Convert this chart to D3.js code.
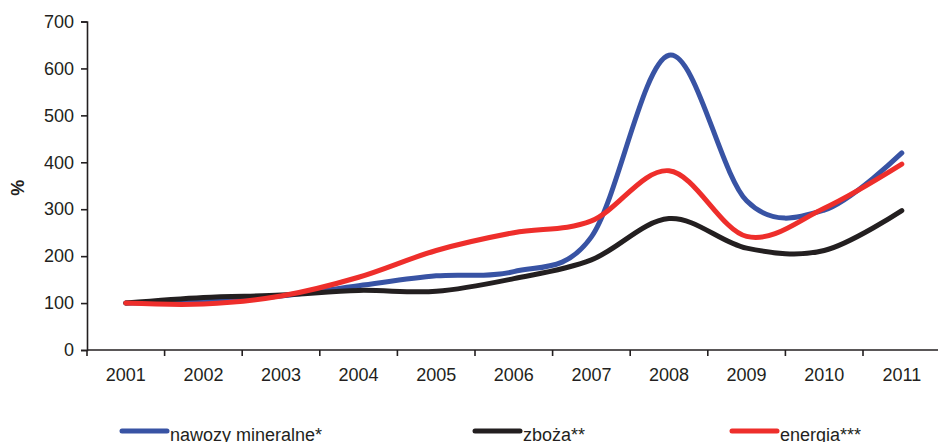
<!DOCTYPE html>
<html>
<head>
<meta charset="utf-8">
<script src="https://cdn.jsdelivr.net/npm/d3@7/dist/d3.min.js"></script>
<style>
  html, body { margin: 0; padding: 0; background: #fff; }
  svg { display: block; font-family: "Liberation Sans", Arial, sans-serif; }
</style>
</head>
<body>
<svg id="chart" width="938" height="442"></svg>
<script>
// Price indices (2001 = 100), %
const years = ["2001","2002","2003","2004","2005","2006","2007","2008","2009","2010","2011"];
const nawozy = [100, 103, 115, 137, 158, 167, 241, 628, 318, 298, 420];
const zboza  = [100, 112, 117, 127, 125, 152, 192, 280, 217, 212, 297];
const energia = [100, 98, 115, 155, 212, 250, 275, 382, 242, 302, 396];
const yTicks = [0, 100, 200, 300, 400, 500, 600, 700];
const seriesNames = ["nawozy mineralne*", "zboża**", "energia***"];

const ink = "#231f20";
const colors = ["#3853a4", "#231f20", "#ee2e2b"];

const svg = d3.select("#chart");
const plotLeft = 87, plotRight = 940.6, plotTop = 21.5, plotBottom = 350;

const x = d3.scaleBand().domain(years).range([plotLeft, plotRight]).paddingInner(0).paddingOuter(0);
const y = d3.scaleLinear().domain([0, 700]).range([plotBottom, plotTop]);

// Y axis
const yAxis = svg.append("g")
  .attr("transform", `translate(${plotLeft},0)`)
  .call(d3.axisLeft(y).tickValues(yTicks).tickSize(6).tickPadding(7).tickFormat(d3.format("d")));
yAxis.select(".domain").attr("stroke", ink).attr("stroke-width", 1.6);
yAxis.selectAll(".tick line").attr("stroke", ink).attr("stroke-width", 1.6);
yAxis.selectAll(".tick text").attr("fill", ink).style("font-size", "18px")
  .style("font-family", "'Liberation Sans', Arial, sans-serif");

// X axis: labels at category centres, ticks on category boundaries
const xAxis = svg.append("g")
  .attr("transform", `translate(0,${plotBottom})`)
  .call(d3.axisBottom(x).tickSize(0).tickPadding(18));
xAxis.select(".domain").remove();
xAxis.selectAll(".tick text").attr("fill", ink).style("font-size", "18px")
  .style("font-family", "'Liberation Sans', Arial, sans-serif");
svg.append("line")
  .attr("x1", plotLeft).attr("x2", plotRight).attr("y1", plotBottom).attr("y2", plotBottom)
  .attr("stroke", ink).attr("stroke-width", 1.6);
svg.append("g").selectAll("line")
  .data(years.concat(["end"]))
  .join("line")
  .attr("x1", (d, i) => i < years.length ? x(d) : plotRight)
  .attr("x2", (d, i) => i < years.length ? x(d) : plotRight)
  .attr("y1", plotBottom).attr("y2", plotBottom + 6)
  .attr("stroke", ink).attr("stroke-width", 1.6);

// Axis title
svg.append("text")
  .attr("transform", `translate(24,${(plotTop + plotBottom) / 2 + 2}) rotate(-90)`)
  .attr("text-anchor", "middle")
  .attr("fill", ink)
  .style("font-size", "18px").style("font-weight", "bold")
  .text("%");

// Smoothed lines
const line = d3.line()
  .x((d, i) => x(years[i]) + x.bandwidth() / 2)
  .y(d => y(d))
  .curve(d3.curveCatmullRom.alpha(0));

[nawozy, zboza, energia].forEach((vals, k) => {
  svg.append("path")
    .datum(vals)
    .attr("d", line)
    .attr("fill", "none")
    .attr("stroke", colors[k])
    .attr("stroke-width", 5)
    .attr("stroke-linecap", "round")
    .attr("stroke-linejoin", "round");
});

// Legend
const legendX = [122, 475, 732];
const legend = svg.append("g");
seriesNames.forEach((name, k) => {
  legend.append("line")
    .attr("x1", legendX[k]).attr("x2", legendX[k] + 45)
    .attr("y1", 431).attr("y2", 431)
    .attr("stroke", colors[k]).attr("stroke-width", 5)
    .attr("stroke-linecap", "round");
  legend.append("text")
    .attr("x", legendX[k] + 48).attr("y", 441)
    .attr("fill", ink)
    .style("font-size", "18px")
    .text(name);
});
</script>
</body>
</html>
